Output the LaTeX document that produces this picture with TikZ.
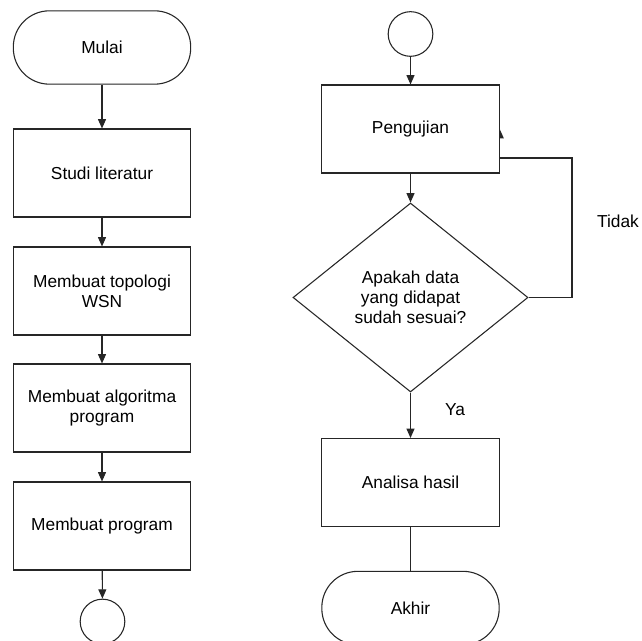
\documentclass[tikz,border=0pt]{standalone}
\usepackage{fontspec}
\setmainfont{Liberation Sans}
\usetikzlibrary{arrows.meta,backgrounds,shapes.geometric}
\begin{document}
\begin{tikzpicture}[x=0.75pt,y=-0.75pt,
  every node/.style={font=\fontsize{13}{15}\selectfont, text=black, inner sep=0pt},
  shp/.style={draw=black!85, line width=0.8pt, fill=white, align=center},
  box/.style={shp, rectangle, minimum width=133pt, minimum height=66pt},
  term/.style={shp, rectangle, rounded corners=27pt, minimum width=133pt, minimum height=55pt},
  conn/.style={shp, circle, minimum size=33.5pt},
  dec/.style={shp, diamond, shape aspect=1.25, minimum width=176.25pt, minimum height=141.75pt},
  edge/.style={draw=black!85, line width=0.8pt},
  arr/.style={edge, -{Triangle[length=7pt,width=6pt]}},
  lbl/.style={font=\fontsize{13}{15}\selectfont}]
\useasboundingbox (0,0) rectangle (642,641);
\clip (0,0) rectangle (642,641);
% left column
\node[term] (mulai) at (102,47.5) {Mulai};
\node[box] (studi) at (102,173) {Studi literatur};
\node[box] (topo) at (102,291) {Membuat topologi\\WSN};
\node[box] (algo) at (102,408) {Membuat algoritma\\program};
\node[box] (prog) at (102,526) {Membuat program};
\node[conn] (c1) at (102.5,621.5) {};
% right column
\node[conn] (c2) at (410.5,34) {};
\node[box] (uji) at (410.5,129) {Pengujian};
\node[dec] (dia) at (410.5,297.5) {Apakah data\\yang didapat\\sudah sesuai?};
\node[box] (anal) at (410.5,482.5) {Analisa hasil};
\node[term] (akhir) at (410.5,608) {Akhir};
\node[lbl] (ya) at (455,410) {Ya};
\node[lbl] (tidak) at (618,221) {Tidak};
\coordinate (loopA) at (572,158);
\begin{pgfonlayer}{background}
\draw[arr] (mulai) -- (studi);
\draw[arr] (studi) -- (topo);
\draw[arr] (topo) -- (algo);
\draw[arr] (algo) -- (prog);
\draw[arr] (prog) -- (c1);
\draw[arr] (c2) -- (uji);
\draw[arr] (uji) -- (dia);
\draw[arr] (dia) -- (anal);
\draw[edge] (anal) -- (akhir);
\draw[arr] (dia.east) -| (loopA) -- (uji.east |- loopA) -- (uji.east);
\end{pgfonlayer}
\end{tikzpicture}
\end{document}
